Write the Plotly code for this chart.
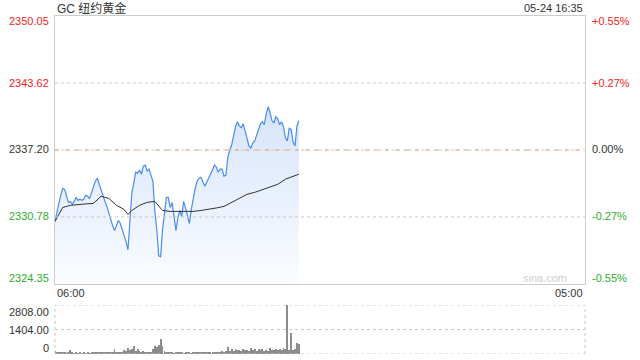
import plotly.graph_objects as go

# ---------------- data ----------------
title_text = "GC 纽约黄金"
stamp_text = "05-24 16:35"
time_labels = ["06:00", "05:00"]
session_minutes = 1380  # 06:00 -> 05:00 next day

price_ticks = [2350.05, 2343.62, 2337.20, 2330.78, 2324.35]
pct_ticks = ["+0.55%", "+0.27%", "0.00%", "-0.27%", "-0.55%"]
prev_close = 2337.20

vol_ticks = [2808.00, 1404.00, 0]
vol_tick_labels = ["2808.00", "1404.00", "0"]

minutes = list(range(0, 640, 5))  # 06:00 .. 16:35

price = [
    2330.34, 2331.40, 2332.08, 2332.85, 2333.53, 2333.43, 2332.85, 2332.18, 2332.27, 2331.98,
    2332.27, 2332.66, 2332.37, 2332.47, 2332.37, 2332.47, 2332.85, 2332.76, 2332.56, 2333.05,
    2333.72, 2334.20, 2334.49, 2333.91, 2333.24, 2332.76, 2332.27, 2331.79, 2331.11, 2330.63,
    2329.95, 2329.47, 2329.95, 2330.44, 2330.15, 2329.57, 2329.08, 2328.41, 2327.63, 2330.82,
    2333.05, 2334.01, 2335.07, 2334.98, 2335.27, 2334.88, 2335.65, 2335.75, 2335.17, 2335.36,
    2334.69, 2334.20, 2331.31, 2329.57, 2327.05, 2326.96, 2329.57, 2331.02, 2332.66, 2332.66,
    2331.69, 2332.18, 2330.73, 2329.47, 2330.73, 2331.40, 2330.82, 2332.27, 2331.60, 2330.92,
    2330.15, 2331.50, 2332.76, 2333.53, 2334.20, 2334.49, 2334.59, 2334.11, 2333.72, 2334.11,
    2334.49, 2334.78, 2335.27, 2335.75, 2335.56, 2335.07, 2335.36, 2335.36, 2334.69, 2334.78,
    2336.52, 2337.20, 2337.68, 2338.55, 2339.42, 2339.91, 2339.52, 2339.33, 2339.71, 2339.04,
    2338.26, 2337.59, 2337.39, 2337.88, 2338.07, 2338.55, 2339.23, 2339.71, 2339.91, 2339.62,
    2340.68, 2341.35, 2340.77, 2340.00, 2339.81, 2340.39, 2340.20, 2339.62, 2339.91, 2339.42,
    2338.36, 2338.07, 2339.33, 2339.13, 2337.97, 2337.59, 2339.52, 2340.00,
]

avg_minutes = [0, 20, 40, 60, 80, 100, 120, 140, 160, 180, 190, 200, 220, 240, 260, 280,
               300, 320, 340, 360, 380, 400, 420, 440, 460, 480, 500, 520, 540, 560,
               580, 600, 620, 635]
avg_price = [2330.34, 2331.69, 2331.89, 2331.98, 2332.03, 2332.08, 2332.76, 2332.56,
             2331.89, 2331.50, 2331.02, 2331.40, 2331.89, 2332.18, 2332.27, 2331.40,
             2331.31, 2331.31, 2331.31, 2331.31, 2331.40, 2331.50, 2331.64, 2331.79,
             2332.18, 2332.56, 2332.95, 2333.14, 2333.38, 2333.63, 2333.91, 2334.40,
             2334.69, 2334.88]

volume = (
    [150, 90, 70, 110, 60, 80, 50, 70, 240, 60, 50, 70, 40, 60, 50, 80, 40, 60, 50, 70]
    + [60, 90, 110, 80, 70, 60, 100, 130, 90, 80, 70, 290, 120, 90, 110, 80]
    + [250, 180, 330, 220, 290, 450, 200, 260, 180]
    + [120, 150, 110, 130, 100, 140]
    + [300, 480, 380, 520, 860, 450, 200]
    + [90, 70, 60, 80, 50, 60, 90, 70, 60, 50, 80, 60, 70, 50, 90, 60, 70, 80]
    + [80, 100, 120, 90, 110, 80, 140, 100, 90, 130, 110, 150, 120, 180]
    + [420]
    + [200, 260, 180, 300, 220, 250, 190, 280, 210, 240, 200, 320, 230, 260, 180,
       270, 220, 300, 200, 250, 190, 330, 240, 210, 270, 230, 290, 250, 320]
    + [300, 2808, 250, 1200, 220, 300, 630, 560]
)

# ---------------- style ----------------
W, H = 640, 360
RED = "#f22323"
GREEN = "#2bb02b"
BLACK = "#333333"
FONT = "Liberation Sans, Arial, sans-serif"

main_x = [55 / W, 585 / W]
main_y = [(H - 284) / H, (H - 16) / H]
vol_y = [(H - 354) / H, (H - 305) / H]

fig = go.Figure()

# baseline for gradient fill
fig.add_trace(go.Scatter(x=minutes, y=[price_ticks[-1]] * len(minutes), mode="lines",
                         line=dict(width=0, color="rgba(0,0,0,0)"), hoverinfo="skip",
                         showlegend=False, xaxis="x", yaxis="y"))
fig.add_trace(go.Scatter(x=minutes, y=price, mode="lines", fill="tonexty",
                         fillgradient=dict(type="vertical", start=price_ticks[-1], stop=2341.5,
                                           colorscale=[[0, "rgba(250,252,255,1)"],
                                                       [1, "rgba(214,228,250,1)"]]),
                         line=dict(color="#4a8cf0", width=1.2), showlegend=False,
                         xaxis="x", yaxis="y"))
fig.add_trace(go.Scatter(x=avg_minutes, y=avg_price, mode="lines",
                         line=dict(color="#333333", width=1), showlegend=False,
                         xaxis="x", yaxis="y"))
fig.add_trace(go.Bar(x=minutes, y=volume, width=2.4, marker=dict(color="#8c8c8c", line=dict(width=0)),
                     showlegend=False, xaxis="x2", yaxis="y2"))

fig.update_layout(
    width=W, height=H, margin=dict(l=0, r=0, t=0, b=0),
    paper_bgcolor="white", plot_bgcolor="white",
    font=dict(family=FONT, size=11, color=BLACK),
    bargap=0,
    xaxis=dict(domain=main_x, range=[0, session_minutes], showticklabels=False, ticks="",
               showgrid=False, zeroline=False, showline=True, linecolor="#cccccc",
               linewidth=1, mirror=True, fixedrange=True),
    yaxis=dict(domain=main_y, range=[price_ticks[-1], price_ticks[0]], showticklabels=False,
               ticks="", showgrid=False, zeroline=False, showline=True, linecolor="#cccccc",
               linewidth=1, mirror=True),
    xaxis2=dict(domain=main_x, range=[0, session_minutes], anchor="y2", showticklabels=False,
                ticks="", showgrid=False, zeroline=False, showline=False),
    yaxis2=dict(domain=vol_y, range=[0, vol_ticks[0]], anchor="x2", showticklabels=False,
                ticks="", showgrid=False, zeroline=False, showline=False),
)

shapes = []
# main dotted gridlines
for v in (price_ticks[1], price_ticks[3]):
    shapes.append(dict(type="line", xref="x domain", yref="y", x0=0, x1=1, y0=v, y1=v,
                       line=dict(color="#c8c8c8", width=1, dash="dot")))
shapes.append(dict(type="line", xref="x domain", yref="y", x0=0, x1=1, y0=prev_close, y1=prev_close,
                   line=dict(color="#cccccc", width=1, dash="dot")))
shapes.append(dict(type="line", xref="x domain", yref="y", x0=0, x1=1, y0=prev_close, y1=prev_close,
                   line=dict(color="#f2a070", width=1, dash="4px,6px")))
# volume panel dotted frame and grid
for v in vol_ticks[:2]:
    shapes.append(dict(type="line", xref="x2 domain", yref="y2", x0=0, x1=1, y0=v, y1=v,
                       line=dict(color="#c8c8c8", width=1, dash="dot")))
for xx in (0, 1):
    shapes.append(dict(type="line", xref="x2 domain", yref="y2", x0=xx, x1=xx, y0=0, y1=vol_ticks[0],
                       line=dict(color="#c8c8c8", width=1, dash="dot")))
shapes.append(dict(type="line", xref="x2 domain", yref="y2", x0=0, x1=1, y0=0, y1=0,
                   line=dict(color="#c8c8c8", width=1, dash="dot")))
fig.update_layout(shapes=shapes)

ann = []
def px_y(py):
    return (H - py) / H

left_cols = [RED, RED, BLACK, GREEN, GREEN]
label_y = [21, 83, 149, 216, 278]
for val, col, yy, pct in zip(price_ticks, left_cols, label_y, pct_ticks):
    ann.append(dict(x=51 / W, y=px_y(yy), xref="paper", yref="paper", text=f"{val:.2f}",
                    showarrow=False, xanchor="right", yanchor="middle",
                    font=dict(color=col, size=11)))
    ann.append(dict(x=590 / W, y=px_y(yy), xref="paper", yref="paper", text=pct,
                    showarrow=False, xanchor="left", yanchor="middle",
                    font=dict(color=col, size=11)))
for lab, yy in zip(vol_tick_labels, [312, 330, 348]):
    ann.append(dict(x=51 / W, y=px_y(yy), xref="paper", yref="paper", text=lab,
                    showarrow=False, xanchor="right", yanchor="middle",
                    font=dict(color=BLACK, size=11)))
ann.append(dict(x=55 / W, y=px_y(293), xref="paper", yref="paper", text=time_labels[0],
                showarrow=False, xanchor="left", yanchor="middle", font=dict(color=BLACK, size=11)))
ann.append(dict(x=585 / W, y=px_y(293), xref="paper", yref="paper", text=time_labels[1],
                showarrow=False, xanchor="right", yanchor="middle", font=dict(color=BLACK, size=11)))
ann.append(dict(x=55 / W, y=px_y(8), xref="paper", yref="paper", text=title_text,
                showarrow=False, xanchor="left", yanchor="middle",
                font=dict(color=BLACK, size=12, family="Liberation Sans, Noto Sans CJK SC, sans-serif")))
ann.append(dict(x=585 / W, y=px_y(8), xref="paper", yref="paper", text=stamp_text,
                showarrow=False, xanchor="right", yanchor="middle", font=dict(color=BLACK, size=11)))
ann.append(dict(x=545 / W, y=px_y(278), xref="paper", yref="paper", text="sina.com",
                showarrow=False, xanchor="center", yanchor="middle", font=dict(color="#cfcfcf", size=11)))
fig.update_layout(annotations=ann)

fig.write_html("out.html", config={"displayModeBar": False})
